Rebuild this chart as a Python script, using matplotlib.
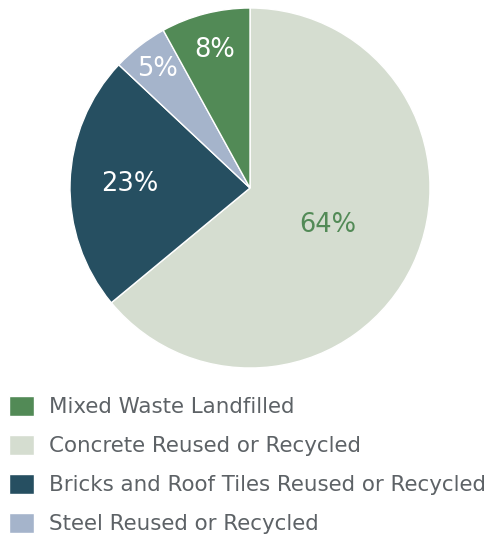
import matplotlib

matplotlib.use("Agg")

import matplotlib.pyplot as plt
import numpy as np

categories = [
    "Concrete Reused or Recycled",
    "Bricks and Roof Tiles Reused or Recycled",
    "Steel Reused or Recycled",
    "Mixed Waste Landfilled",
]
shares = [64, 23, 5, 8]
colors = ["#d5ddd0", "#264f61", "#a5b4cb", "#528a56"]
label_colors = ["#528a56", "white", "white", "white"]
label_radius = [0.48, 0.67, 0.84, 0.79]
legend_order = [3, 0, 1, 2]

plt.rcParams["font.family"] = ["DejaVu Sans"]

fig = plt.figure(figsize=(4.92, 5.40), dpi=100)
ax = fig.add_axes([70 / 492, 172 / 540, 360 / 492, 360 / 540])

wedges, texts = ax.pie(
    shares,
    colors=colors,
    startangle=90,
    counterclock=False,
    wedgeprops={"edgecolor": "white", "linewidth": 1.0},
)
ax.set_xlim(-1, 1)
ax.set_ylim(-1, 1)
ax.set_aspect("equal")

for wedge, share, color, r in zip(wedges, shares, label_colors, label_radius):
    mid = np.deg2rad(0.5 * (wedge.theta1 + wedge.theta2))
    ax.text(
        r * np.cos(mid),
        r * np.sin(mid),
        f"{share}%",
        ha="center",
        va="center",
        color=color,
        fontsize=18.5,
    )

fig.legend(
    [wedges[i] for i in legend_order],
    [categories[i] for i in legend_order],
    loc="upper left",
    bbox_to_anchor=(0 / 492, 1 - 387 / 540),
    frameon=False,
    fontsize=15.4,
    labelcolor="#5d6266",
    handlelength=1.17,
    handleheight=1.07,
    handletextpad=0.7,
    labelspacing=0.83,
    borderaxespad=0,
)

fig.savefig("out.png", dpi=100)
